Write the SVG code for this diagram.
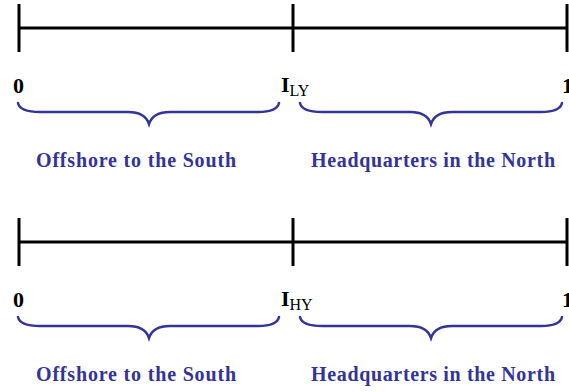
<svg xmlns="http://www.w3.org/2000/svg" width="569" height="392" viewBox="0 0 569 392">
<style>
.ax{stroke:#000;stroke-width:3;fill:none}
.br{stroke:#333399;stroke-width:2.5;fill:none;stroke-linecap:round}
.lb{font-family:"Liberation Serif",serif;font-weight:bold;font-size:22px;fill:#000}
.sb{font-family:"Liberation Serif",serif;font-weight:normal;font-size:16px;fill:#000}
.tx{font-family:"Liberation Serif",serif;font-weight:bold;font-size:20px;fill:#333399}
</style>
<defs>
<path id="brL" d="M18,103 Q20,112 40,112 L128,112 Q145,112 149,124 Q153,112 170,112 L258,112 Q277,112 279,103"/>
<path id="brR" d="M300,103 Q302,112 322,112 L410,112 Q427,112 431,124 Q435,112 452,112 L541,112 Q560,112 562,103"/>
</defs>
<g id="connectors">
<g id="axis-top">
<line class="ax" x1="19" y1="28" x2="567" y2="28"/>
<line class="ax" x1="19" y1="4" x2="19" y2="52"/>
<line class="ax" x1="293" y1="4" x2="293" y2="52"/>
<line class="ax" x1="567" y1="4" x2="567" y2="52"/>
</g>
<g id="axis-bottom">
<line class="ax" x1="19" y1="242" x2="567" y2="242"/>
<line class="ax" x1="19" y1="218" x2="19" y2="266"/>
<line class="ax" x1="293" y1="218" x2="293" y2="266"/>
<line class="ax" x1="567" y1="218" x2="567" y2="266"/>
</g>
</g>
<g id="top-labels">
<text class="lb" x="13" y="93">0</text>
<text class="lb" x="281" y="92">I<tspan class="sb" dy="4">LY</tspan></text>
<text class="lb" x="562" y="93">1</text>
</g>
<g id="top-south">
<use href="#brL" class="br"/>
<text class="tx" x="36" y="167" textLength="200">Offshore to the South</text>
</g>
<g id="top-north">
<use href="#brR" class="br"/>
<text class="tx" x="311" y="167" textLength="244">Headquarters in the North</text>
</g>
<g id="bottom-labels">
<text class="lb" x="13" y="307">0</text>
<text class="lb" x="281" y="306">I<tspan class="sb" dy="4">HY</tspan></text>
<text class="lb" x="562" y="307">1</text>
</g>
<g id="bottom-south">
<use href="#brL" class="br" transform="translate(0,214)"/>
<text class="tx" x="36" y="381" textLength="200">Offshore to the South</text>
</g>
<g id="bottom-north">
<use href="#brR" class="br" transform="translate(0,214)"/>
<text class="tx" x="311" y="381" textLength="244">Headquarters in the North</text>
</g>
</svg>
